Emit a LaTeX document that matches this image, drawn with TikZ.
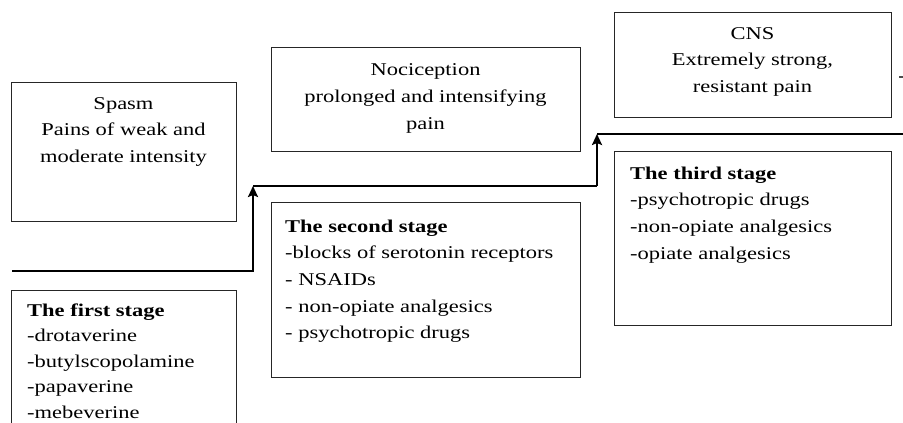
\documentclass[tikz,border=0pt]{standalone}
\usepackage{fontspec}
\setmainfont{Liberation Serif}[FakeStretch=1.25]
\usetikzlibrary{arrows.meta}
\begin{document}
\begin{tikzpicture}[x=1pt,y=-1pt,
  box/.style={draw=black!85, line width=1.2pt, rectangle, inner sep=0pt, anchor=north west},
  txt/.style={inner sep=0pt, font=\fontsize{18}{26.7}\selectfont},
  ctxt/.style={txt, align=center, anchor=north},
  ltxt/.style={txt, align=left, anchor=north west},
  stepline/.style={line width=2.8pt, black},
  steparrow/.style={stepline, -{Stealth[length=11pt,width=10pt,inset=2pt]}}
]
\useasboundingbox (0,0) rectangle (903,423);
\clip (0,0) rectangle (903,423);
% boxes
\node[box, minimum width=225pt, minimum height=139pt] (spasm) at (11,82) {};
\node[box, minimum width=309pt, minimum height=104pt] (noci) at (271,47) {};
\node[box, minimum width=277pt, minimum height=105pt] (cns) at (614,12) {};
\node[box, minimum width=225pt, minimum height=150pt] (first) at (11,290) {};
\node[box, minimum width=309pt, minimum height=175pt] (second) at (271,202) {};
\node[box, minimum width=277pt, minimum height=174pt] (third) at (614,151) {};
% texts
\node[ctxt] (spasmt) at (123.5,97) {Spasm\\Pains of weak and\\moderate intensity};
\node[ctxt] (nocit) at (425.5,63.5) {Nociception\\prolonged and intensifying\\pain};
\node[ctxt] (cnst) at (752.5,27) {CNS\\Extremely strong,\\resistant pain};
\node[ltxt, font=\fontsize{18}{25.5}\selectfont] (firstt) at (27,303.5) {\textbf{The first stage}\\-drotaverine\\-butylscopolamine\\-papaverine\\-mebeverine};
\node[ltxt] (secondt) at (285,219.5) {\textbf{The second stage}\\-blocks of serotonin receptors\\- NSAIDs\\- non-opiate analgesics\\- psychotropic drugs};
\node[ltxt] (thirdt) at (630,166.5) {\textbf{The third stage}\\-psychotropic drugs\\-non-opiate analgesics\\-opiate analgesics};
% step line
\coordinate (s0) at (12,271);
\coordinate (s1) at (253,271);
\coordinate (s2) at (253,186);
\coordinate (s3) at (597,186);
\coordinate (s4) at (597,134);
\coordinate (s5) at (904,134);
\draw[steparrow] (s0) -- (s1) -- (s2);
\draw[stepline] (s2) -- (s3);
\draw[steparrow] (s3) -- (s4);
\draw[stepline] (s4) -- (s5);
% cut-off mark at right edge
\coordinate (m0) at (899,77);
\coordinate (m1) at (904,77);
\draw[line width=1.5pt, black!70] (m0) -- (m1);
\end{tikzpicture}
\end{document}
